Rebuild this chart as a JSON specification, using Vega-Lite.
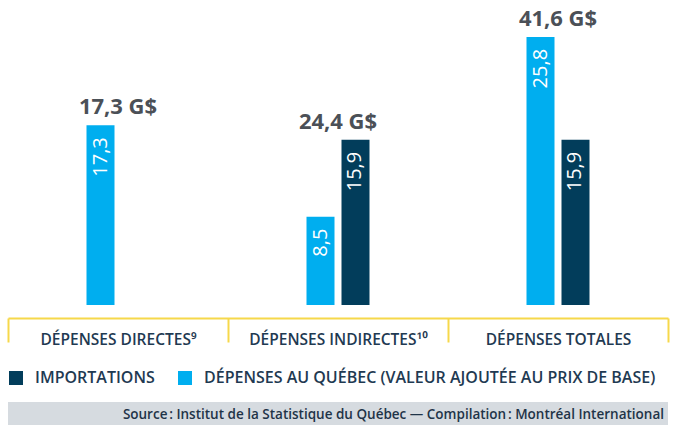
{
  "$schema": "https://vega.github.io/schema/vega-lite/v6.json",
  "padding": {"left": 7, "right": 7, "top": 0, "bottom": 0},
  "spacing": 16,
  "config": {
    "view": {"stroke": null},
    "font": "Open Sans"
  },
  "vconcat": [
    {
      "width": 660,
      "height": 305,
      "data": {
        "values": [
          {"categorie": "DÉPENSES DIRECTES⁹", "serie": "DÉPENSES AU QUÉBEC (VALEUR AJOUTÉE AU PRIX DE BASE)", "valeur": 17.3, "total": 17.3},
          {"categorie": "DÉPENSES INDIRECTES¹⁰", "serie": "DÉPENSES AU QUÉBEC (VALEUR AJOUTÉE AU PRIX DE BASE)", "valeur": 8.5, "total": 24.4},
          {"categorie": "DÉPENSES INDIRECTES¹⁰", "serie": "IMPORTATIONS", "valeur": 15.9, "total": 24.4},
          {"categorie": "DÉPENSES TOTALES", "serie": "DÉPENSES AU QUÉBEC (VALEUR AJOUTÉE AU PRIX DE BASE)", "valeur": 25.8, "total": 41.6},
          {"categorie": "DÉPENSES TOTALES", "serie": "IMPORTATIONS", "valeur": 15.9, "total": 41.6}
        ]
      },
      "encoding": {
        "x": {
          "field": "categorie", "type": "nominal", "sort": null,
          "scale": {"paddingInner": 0, "paddingOuter": 0},
          "axis": {
            "title": null, "orient": "bottom", "offset": 13,
            "domainColor": "#f6d84b", "domainWidth": 2,
            "tickColor": "#f6d84b", "tickWidth": 2, "tickSize": 24, "tickBand": "extent",
            "labelAngle": 0, "labelFont": "Open Sans", "labelFontSize": 15.5, "labelFontWeight": 600,
            "labelColor": "#1f3a52", "labelPadding": -3, "labelBaseline": "middle", "labelLimit": 300
          }
        },
        "y": {
          "field": "valeur", "type": "quantitative",
          "scale": {"domain": [0, 29.35], "nice": false, "zero": true},
          "axis": null
        }
      },
      "layer": [
        {
          "mark": {"type": "bar"},
          "encoding": {
            "xOffset": {
              "field": "serie", "type": "nominal",
              "scale": {"domain": ["p1", "p2", "DÉPENSES AU QUÉBEC (VALEUR AJOUTÉE AU PRIX DE BASE)", "IMPORTATIONS", "p3", "p4"], "paddingInner": 0.2, "paddingOuter": 0.243}
            },
            "color": {
              "field": "serie", "type": "nominal",
              "scale": {"domain": ["IMPORTATIONS", "DÉPENSES AU QUÉBEC (VALEUR AJOUTÉE AU PRIX DE BASE)"], "range": ["#023d5b", "#00aeef"]},
              "legend": {
                "orient": "bottom", "direction": "horizontal", "title": null,
                "symbolType": "square", "symbolSize": 196, "symbolStrokeWidth": 0,
                "labelFont": "Open Sans", "labelFontSize": 16, "labelFontWeight": 600, "labelColor": "#1f3a52",
                "columnPadding": 22, "labelLimit": 600, "offset": 22, "labelOffset": 11
              }
            }
          }
        },
        {
          "transform": [
            {"calculate": "replace(format(datum.valeur, '.1f'), '.', ',')", "as": "etiquette"}
          ],
          "mark": {"type": "text", "angle": 270, "align": "right", "baseline": "middle", "dx": -12, "font": "Open Sans", "fontSize": 20, "color": "#ffffff"},
          "encoding": {
            "xOffset": {"field": "serie", "type": "nominal"},
            "text": {"field": "etiquette"}
          }
        },
        {
          "transform": [
            {"joinaggregate": [{"op": "max", "field": "valeur", "as": "maxval"}], "groupby": ["categorie"]},
            {"filter": "datum.valeur == datum.maxval"},
            {"calculate": "replace(format(datum.total, '.1f'), '.', ',') + ' G$'", "as": "etiquette_total"}
          ],
          "mark": {"type": "text", "baseline": "alphabetic", "align": "center", "dy": -11, "font": "Open Sans", "fontSize": 22, "fontWeight": "bold", "color": "#4b5057"},
          "encoding": {
            "text": {"field": "etiquette_total"}
          }
        }
      ],
      "resolve": {"scale": {"color": "independent"}, "legend": {"color": "independent"}}
    },
    {
      "width": 660,
      "height": 25,
      "view": {"fill": "#d6dbe0", "stroke": null},
      "data": {"values": [{"source": "Source\u202f: Institut de la Statistique du Québec — Compilation\u202f: Montréal International"}]},
      "mark": {"type": "text", "align": "right", "baseline": "middle", "dx": -4, "font": "Open Sans", "fontSize": 13.5, "fontWeight": 600, "color": "#1f3448"},
      "encoding": {
        "text": {"field": "source"},
        "x": {"datum": 1, "type": "quantitative", "scale": {"domain": [0, 1]}, "axis": null}
      }
    }
  ],
  "resolve": {"scale": {"color": "independent"}, "legend": {"color": "independent"}}
}
